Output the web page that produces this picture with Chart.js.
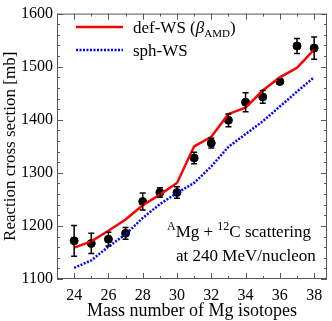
<!DOCTYPE html>
<html>
<head>
<meta charset="utf-8">
<script src="https://cdn.jsdelivr.net/npm/chart.js@4.4.0/dist/chart.umd.min.js"></script>
<style>
	html, body { margin: 0; padding: 0; background: #fff; }
	#wrap { width: 332px; height: 321px; }
</style>
</head>
<body>
<div id="wrap"><canvas id="rcsChart" width="332" height="321"></canvas></div>
<script>
// Mg isotopes + 12C reaction cross sections at 240 MeV/nucleon
var massNumbers = [24, 25, 26, 27, 28, 29, 30, 31, 32, 33, 34, 35, 36, 37, 38];
var expValues   = [1172, 1167, 1175, 1186, 1246, 1263, 1263, 1328, 1356, 1399, 1433, 1443, 1472, 1539, 1535];
var expErrors   = [29, 19, 13, 11, 16, 9, 11, 11, 9, 12, 18, 12, 4, 14, 21];
var defWS       = [1159, 1171, 1191, 1212, 1239, 1259, 1281, 1350, 1368, 1411, 1423, 1455, 1480, 1498, 1532];
var sphWS       = [1121, 1135, 1161, 1184, 1215, 1241, 1262, 1281, 1312, 1349, 1373, 1397, 1425, 1453, 1480];
var xTicks = [24, 26, 28, 30, 32, 34, 36, 38];
var yTicks = [1100, 1200, 1300, 1400, 1500, 1600];

var serif = '"Liberation Serif", "DejaVu Serif", serif';

function toPoints(vals) {
	return massNumbers.map(function(m, i) { return { x: m, y: vals[i] }; });
}

// error bars, inward ticks, frame, legend and note
var decorPlugin = {
	id: 'decor',
	afterDatasetsDraw: function(chart) {
		var ctx = chart.ctx;
		var xs = chart.scales.x, ys = chart.scales.y;

		// error bars
		ctx.save();
		ctx.strokeStyle = '#000';
		ctx.lineWidth = 1.5;
		massNumbers.forEach(function(m, i) {
			var px = xs.getPixelForValue(m);
			var top = ys.getPixelForValue(expValues[i] + expErrors[i]);
			var bot = ys.getPixelForValue(expValues[i] - expErrors[i]);
			ctx.beginPath();
			ctx.moveTo(px, top); ctx.lineTo(px, bot);
			ctx.moveTo(px - 3, top); ctx.lineTo(px + 3, top);
			ctx.moveTo(px - 3, bot); ctx.lineTo(px + 3, bot);
			ctx.stroke();
		});
		ctx.restore();
	},
	afterDraw: function(chart) {
		var ctx = chart.ctx;
		var xs = chart.scales.x, ys = chart.scales.y;
		var a = chart.chartArea;

		ctx.save();
		ctx.strokeStyle = '#555';
		ctx.lineWidth = 1;
		ctx.strokeRect(a.left + 0.5, a.top + 0.5, a.right - a.left - 1, a.bottom - a.top - 1);

		ctx.beginPath();
		for (var m = 23; m <= 39; m++) {
			var px = Math.round(xs.getPixelForValue(m)) + 0.5;
			if (px < a.left || px > a.right) continue;
			var len = (m % 2 === 0) ? 6 : 3;
			ctx.moveTo(px, a.bottom); ctx.lineTo(px, a.bottom - len);
			ctx.moveTo(px, a.top); ctx.lineTo(px, a.top + len);
		}
		for (var v = 1100; v <= 1600; v += 20) {
			var py = Math.round(ys.getPixelForValue(v)) + 0.5;
			var l2 = (v % 100 === 0) ? 6 : 3;
			ctx.moveTo(a.left, py); ctx.lineTo(a.left + l2, py);
			ctx.moveTo(a.right, py); ctx.lineTo(a.right - l2, py);
		}
		ctx.stroke();

		// legend
		ctx.lineWidth = 2.5;
		ctx.strokeStyle = '#ff0000';
		ctx.beginPath(); ctx.moveTo(76, 27); ctx.lineTo(123, 27); ctx.stroke();
		ctx.strokeStyle = '#0000ff';
		ctx.setLineDash([2, 1.5]);
		ctx.beginPath(); ctx.moveTo(76, 50); ctx.lineTo(123, 50); ctx.stroke();
		ctx.setLineDash([]);

		ctx.fillStyle = '#000';
		ctx.textBaseline = 'alphabetic';
		ctx.font = '17px ' + serif;
		var x0 = 133;
		ctx.fillText('def-WS (', x0, 33);
		x0 += ctx.measureText('def-WS (').width;
		ctx.font = 'italic 17px ' + serif;
		ctx.fillText('\u03B2', x0, 33);
		x0 += ctx.measureText('\u03B2').width;
		ctx.font = '11px ' + serif;
		ctx.fillText('AMD', x0, 37);
		x0 += ctx.measureText('AMD').width;
		ctx.font = '17px ' + serif;
		ctx.fillText(')', x0, 33);
		ctx.fillText('sph-WS', 133, 56);

		// reaction note
		var nx = 167;
		ctx.font = '12px ' + serif;
		ctx.fillText('A', nx, 230);
		nx += ctx.measureText('A').width;
		ctx.font = '17px ' + serif;
		ctx.fillText('Mg + ', nx, 237);
		nx += ctx.measureText('Mg + ').width;
		ctx.font = '12px ' + serif;
		ctx.fillText('12', nx, 230);
		nx += ctx.measureText('12').width;
		ctx.font = '17px ' + serif;
		ctx.fillText('C scattering', nx, 237);
		ctx.fillText('at 240 MeV/nucleon', 176, 261);
		ctx.restore();
	}
};

var rcsChart = new Chart(document.getElementById('rcsChart'), {
	type: 'line',
	data: {
		datasets: [
			{
				label: 'def-WS',
				data: toPoints(defWS),
				borderColor: '#ff0000',
				borderWidth: 2.5,
				pointRadius: 0,
				tension: 0
			},
			{
				label: 'sph-WS',
				data: toPoints(sphWS),
				borderColor: '#0000ff',
				borderWidth: 2.5,
				borderDash: [2, 1.5],
				pointRadius: 0,
				tension: 0
			},
			{
				label: 'exp',
				data: toPoints(expValues),
				showLine: false,
				pointRadius: 4,
				pointBackgroundColor: '#000',
				pointBorderColor: '#000'
			}
		]
	},
	options: {
		responsive: false,
		animation: false,
		layout: { padding: { top: 6, right: 4, left: 0, bottom: 0 } },
		plugins: { legend: { display: false }, tooltip: { enabled: false } },
		scales: {
			x: {
				type: 'linear',
				min: 23,
				max: 38.75,
				afterBuildTicks: function(s) { s.ticks = xTicks.map(function(v) { return { value: v }; }); },
				afterFit: function(s) { s.height = 42; },
				grid: { display: false, drawTicks: false },
				border: { display: false },
				ticks: { color: '#000', font: { family: serif, size: 16 }, padding: 7, maxRotation: 0, autoSkip: false,
					callback: function(v) { return String(v); } },
				title: { display: true, text: 'Mass number of Mg isotopes', color: '#000', font: { family: serif, size: 18 }, padding: { top: 0, bottom: -1 } }
			},
			y: {
				min: 1100,
				max: 1600,
				afterBuildTicks: function(s) { s.ticks = yTicks.map(function(v) { return { value: v }; }); },
				afterFit: function(s) { s.width = 57; },
				grid: { display: false, drawTicks: false },
				border: { display: false },
				ticks: { color: '#000', font: { family: serif, size: 16 }, padding: 4, autoSkip: false,
					callback: function(v) { return String(v); } },
				title: { display: true, text: 'Reaction cross section [mb]', color: '#000', font: { family: serif, size: 17 }, padding: { top: 0, bottom: 0 } }
			}
		}
	},
	plugins: [decorPlugin]
});
</script>
</body>
</html>
